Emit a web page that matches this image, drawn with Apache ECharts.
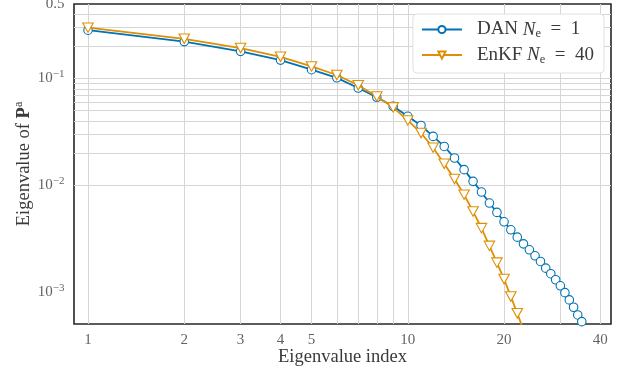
<!DOCTYPE html>
<html>
<head>
<meta charset="utf-8">
<script src="https://cdn.jsdelivr.net/npm/echarts@6/dist/echarts.min.js"></script>
<style>html,body{margin:0;padding:0;background:#fff}#c{width:634px;height:374px}</style>
</head>
<body>
<div id="c"></div>
<script>
// ---- data ----
const danIndex = [1,2,3,4,5,6,7,8,9,10,11,12,13,14,15,16,17,18,19,20,21,22,23,24,25,26,27,28,29,30,31,32,33,34,35,36];
const danValues = [0.284,0.222,0.180,0.149,0.121,0.1016,0.0815,0.0668,0.0549,0.0443,0.0363,0.0287,0.0231,0.0180,0.0140,0.01087,0.00863,0.00681,0.00556,0.00454,0.00382,0.00326,0.00282,0.00248,0.00218,0.00193,0.00167,0.00148,0.00130,0.00114,0.000984,0.000841,0.000718,0.000608,0.000526,0.000455];
const enkfIndex = [1,2,3,4,5,6,7,8,9,10,11,12,13,14,15,16,17,18,19,20,21,22,23];
const enkfValues = [0.300,0.236,0.193,0.160,0.130,0.108,0.0865,0.0680,0.0537,0.0405,0.0309,0.0225,0.0159,0.01143,0.00815,0.00568,0.00396,0.00270,0.00188,0.00132,0.000904,0.000631,0.00044];
const xTickLabels = [1,2,3,4,5,10,20,40];
const yTickValues = [0.001,0.01,0.1,0.5];
const yTickLabels = ['{b|10}{s|−3}','{b|10}{s|−2}','{b|10}{s|−1}','{b|0.5}'];
const xGrid = [1,2,3,4,5,6,7,8,9,10,20,30,40];
const yGrid = [0.0006,0.0007,0.0008,0.0009,0.001,0.002,0.003,0.004,0.005,0.006,0.007,0.008,0.009,
               0.01,0.02,0.03,0.04,0.05,0.06,0.07,0.08,0.09,0.1,0.2,0.3,0.4];
const XMIN = 0.904, XMAX = 43.2, YMIN = 0.0005, YMAX = 0.5;

const FONT = 'Liberation Serif';
const TXT = '#3a3a3a';
const BLUE = '#0173b2', ORANGE = '#de8f05';
const chart = echarts.init(document.getElementById('c'));
const pair = (xs, ys) => xs.map((x, i) => [x, ys[i]]);

chart.setOption({
  animation: false,
  grid: {left: 74, right: 23, top: 4, bottom: 50, show: true, borderColor: '#262626', borderWidth: 1.6, backgroundColor: 'transparent'},
  xAxis: {
    type: 'log', logBase: 10, min: XMIN, max: XMAX,
    axisLine: {show: false}, axisTick: {show: false}, axisLabel: {show: false}, splitLine: {show: false}, minorSplitLine: {show: false},
    name: 'Eigenvalue index', nameLocation: 'middle', nameGap: 24,
    nameTextStyle: {fontFamily: FONT, fontSize: 18.5, color: TXT}
  },
  yAxis: {
    type: 'log', logBase: 10, min: YMIN, max: YMAX,
    axisLine: {show: false}, axisTick: {show: false}, axisLabel: {show: false}, splitLine: {show: false},
    name: '{t|Eigenvalue of }{p|P}{s|a}', nameLocation: 'middle', nameGap: 39,
    nameTextStyle: {fontFamily: FONT, fontSize: 18.5, color: TXT,
      rich: {t: {fontFamily: FONT, fontSize: 18.5, color: TXT, lineHeight: 22},
             p: {fontFamily: FONT, fontSize: 18.5, fontWeight: 'bold', color: TXT, lineHeight: 22},
             s: {fontFamily: FONT, fontSize: 12, color: TXT, lineHeight: 12, verticalAlign: 'top'}}}
  },
  legend: {
    data: ['DAN', 'EnKF'], orient: 'vertical', right: 30, top: 14, z: 20,
    itemWidth: 40, itemHeight: 9, itemGap: 5,
    padding: [6, 10, 7, 8],
    backgroundColor: '#ffffff', borderColor: '#e0e0e0', borderWidth: 1, borderRadius: 4,
    formatter: function (n) {
      return n === 'DAN' ? '{a|DAN }{i|N}{s|e}{a|  =  1}' : '{a|EnKF }{i|N}{s|e}{a|  =  40}';
    },
    textStyle: {fontFamily: FONT, fontSize: 19, color: TXT, padding: [0, 0, 0, 10],
      rich: {a: {fontFamily: FONT, fontSize: 19, color: TXT, lineHeight: 22},
             i: {fontFamily: FONT, fontSize: 19, fontStyle: 'italic', color: TXT, lineHeight: 22},
             s: {fontFamily: FONT, fontSize: 12.5, color: TXT, lineHeight: 12, verticalAlign: 'bottom'}}}
  },
  series: [
    {
      name: 'grid', type: 'line', data: [], silent: true, z: 0,
      markLine: {
        z: 0, silent: true, symbol: 'none', animation: false, label: {show: false},
        lineStyle: {color: '#d6d6d6', width: 1, type: 'solid'},
        emphasis: {disabled: true},
        data: xGrid.map(v => ({xAxis: v})).concat(yGrid.map(v => ({yAxis: v})))
      }
    },
    {
      name: 'DAN', type: 'line', data: pair(danIndex, danValues), z: 3,
      color: BLUE, lineStyle: {color: BLUE, width: 1.8},
      symbol: 'circle', symbolSize: 8.5, showAllSymbol: true,
      itemStyle: {color: '#fff', borderColor: BLUE, borderWidth: 1.1}
    },
    {
      name: 'EnKF', type: 'line', data: pair(enkfIndex, enkfValues), z: 4,
      color: ORANGE, lineStyle: {color: ORANGE, width: 1.8},
      symbol: 'path://M0,0 L10,0 L5,9 Z', symbolSize: [10.5, 9.5], showAllSymbol: true,
      itemStyle: {color: '#fff', borderColor: ORANGE, borderWidth: 1.1}
    },
    {
      name: 'xlabels', type: 'scatter', clip: false, silent: true, symbolSize: 1,
      itemStyle: {color: 'rgba(0,0,0,0)'},
      data: xTickLabels.map(v => [v, YMIN]),
      label: {show: true, position: 'bottom', distance: 8, fontFamily: FONT, fontSize: 15, color: TXT,
              formatter: p => String(p.value[0])}
    },
    {
      name: 'ylabels', type: 'scatter', clip: false, silent: true, symbolSize: 1,
      itemStyle: {color: 'rgba(0,0,0,0)'},
      data: yTickValues.map(v => [XMIN, v]),
      label: {show: true, position: 'left', distance: 9, color: TXT,
              formatter: p => yTickLabels[p.dataIndex],
              rich: {b: {fontFamily: FONT, fontSize: 15, color: TXT, lineHeight: 19},
                     s: {fontFamily: FONT, fontSize: 11, color: TXT, lineHeight: 11, verticalAlign: 'top'}}}
    }
  ]
});
</script>
</body>
</html>
